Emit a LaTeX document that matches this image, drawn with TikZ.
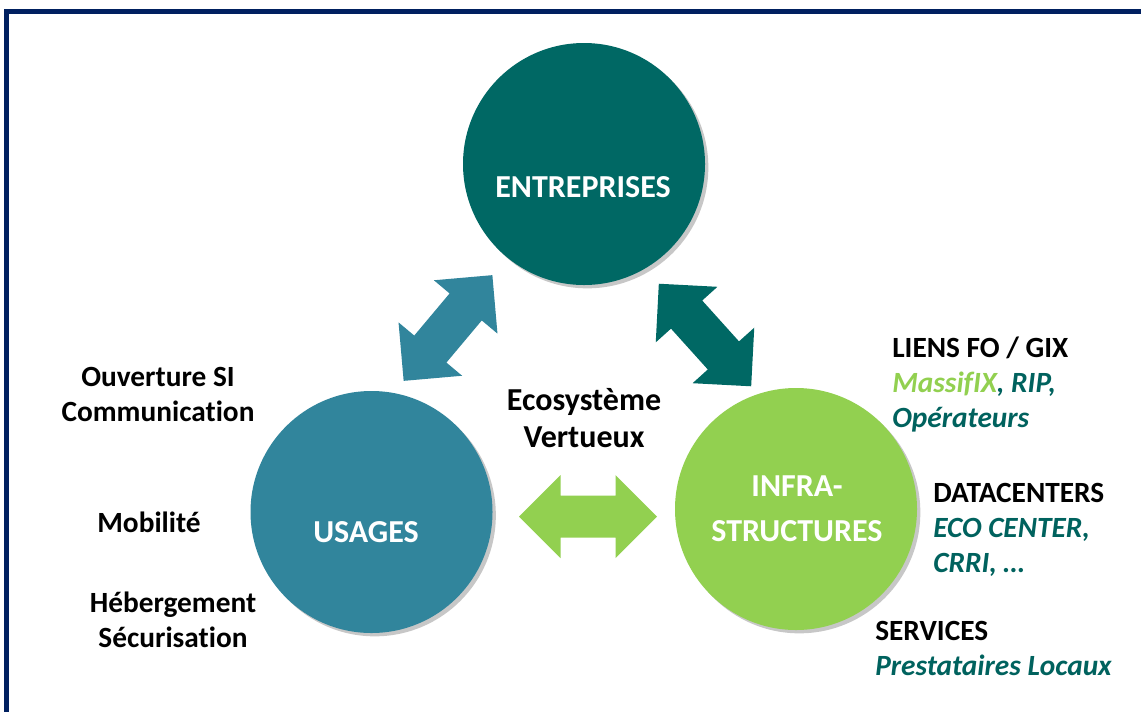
\documentclass[tikz,border=0pt]{standalone}
\usepackage{fontspec}
\setmainfont{Carlito}[Ligatures={NoCommon}]
\usetikzlibrary{shadows}
\definecolor{navy}{HTML}{002060}
\definecolor{teal1}{HTML}{006864}
\definecolor{blue1}{HTML}{31859C}
\definecolor{green1}{HTML}{92D050}
\definecolor{tealtxt}{HTML}{00625E}
\begin{document}
\begin{tikzpicture}[x=0.75pt,y=-0.75pt,
  bubble/.style={circle,minimum size=181.5pt,inner sep=0pt,
    drop shadow={shadow xshift=2.5pt,shadow yshift=-2.5pt,opacity=0.22,fill=black}},
  bubtext/.style={text=white,font=\fontsize{24}{33.75}\selectfont\bfseries,align=center,inner sep=0pt},
  side/.style={font=\fontsize{22}{26.25}\selectfont\bfseries,inner sep=0pt}
]
\useasboundingbox (0,0) rectangle (1141,711);
\fill[white] (0,0) rectangle (1141,711);
\draw[navy,line width=3.4pt] (6.5,11.5) rectangle (1170,740);

% circles
\node[bubble,fill=teal1] (ent) at (584,164) {};
\node[bubble,fill=blue1] (usa) at (371.5,512) {};
\node[bubble,fill=green1] (inf) at (796,509) {};

\node[bubtext] (entt) at (583,187) {ENTREPRISES};
\node[bubtext] (usat) at (366,532) {USAGES};
\node[bubtext] (inft) at (797,509) {INFRA-\\STRUCTURES};

% double arrows
\begin{scope}[shift={(448,328)},rotate=50]
\fill[blue1] (-69,0) -- (-27.5,41.5) -- (-27.5,21) -- (27.5,21) -- (27.5,41.5) -- (69,0)
  -- (27.5,-41.5) -- (27.5,-21) -- (-27.5,-21) -- (-27.5,-41.5) -- cycle;
\end{scope}
\begin{scope}[shift={(705,335)},rotate=-48]
\fill[teal1] (-69,0) -- (-27.5,41.5) -- (-27.5,21) -- (27.5,21) -- (27.5,41.5) -- (69,0)
  -- (27.5,-41.5) -- (27.5,-21) -- (-27.5,-21) -- (-27.5,-41.5) -- cycle;
\end{scope}
\begin{scope}[shift={(588,516.5)}]
\fill[green1] (-69,0) -- (-27.5,41.5) -- (-27.5,21) -- (27.5,21) -- (27.5,41.5) -- (69,0)
  -- (27.5,-41.5) -- (27.5,-21) -- (-27.5,-21) -- (-27.5,-41.5) -- cycle;
\end{scope}

% side texts
\node[side,align=center] (ouv) at (158,394) {Ouverture SI\\Communication};
\node[side] (mob) at (149,522) {Mobilité};
\node[side,align=center] (heb) at (173,620) {Hébergement\\Sécurisation};
\node[side,align=center,font=\fontsize{24}{28}\selectfont\bfseries] (eco) at (584,418) {Ecosystème\\Vertueux};

\node[side,align=left,anchor=west] (liens) at (892,384.5) {LIENS FO / GIX\\
  {\itshape\color{green1}MassifIX\color{tealtxt}, RIP,}\\
  {\itshape\color{tealtxt}Opérateurs}};
\node[side,align=left,anchor=west] (data) at (933,530) {DATACENTERS\\
  {\itshape\color{tealtxt}ECO CENTER,}\\
  {\itshape\color{tealtxt}CRRI, …}};
\node[side,align=left,anchor=west] (serv) at (875,648.5) {SERVICES\\
  {\itshape\color{tealtxt}Prestataires Locaux}};
\end{tikzpicture}
\end{document}
